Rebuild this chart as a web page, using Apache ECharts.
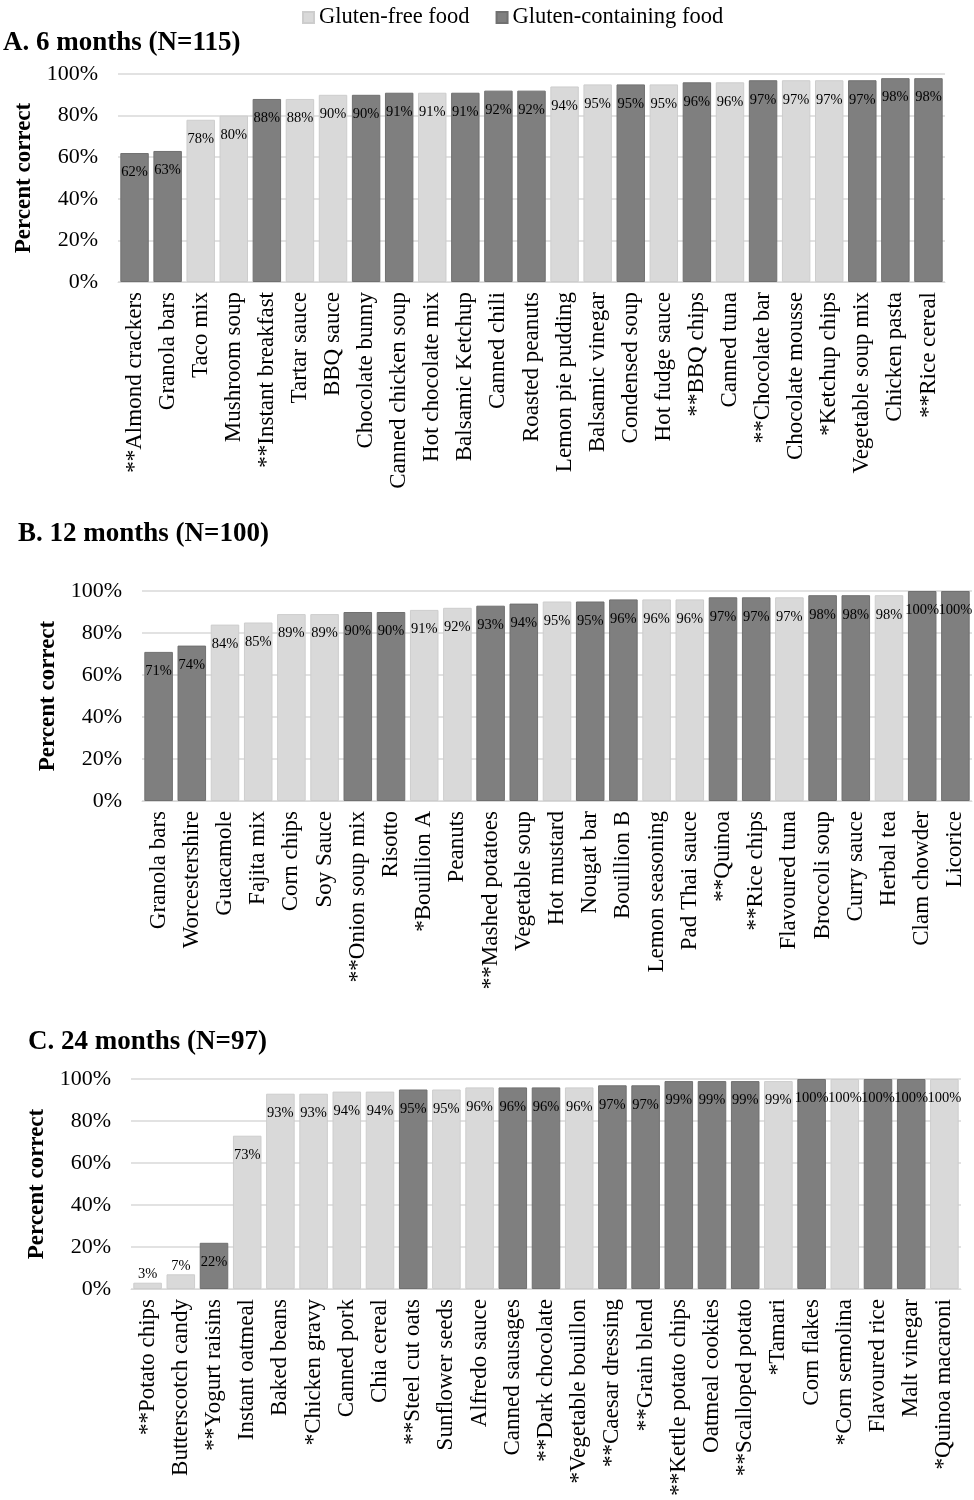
<!DOCTYPE html>
<html>
<head>
<meta charset="utf-8">
<script src="https://cdn.jsdelivr.net/npm/echarts@6/dist/echarts.min.js"></script>
<style>
  html, body { margin: 0; padding: 0; background: #fff; }
  #chart { width: 974px; height: 1500px; }
</style>
</head>
<body>
<div id="chart"></div>
<script>
// F = gluten-free food, G = gluten-containing food
const categoriesA = ['**Almond crackers', 'Granola bars', 'Taco mix', 'Mushroom soup', '**Instant breakfast',
  'Tartar sauce', 'BBQ sauce', 'Chocolate bunny', 'Canned chicken soup', 'Hot chocolate mix',
  'Balsamic Ketchup', 'Canned chili', 'Roasted peanuts', 'Lemon pie pudding', 'Balsamic vinegar',
  'Condensed soup', 'Hot fudge sauce', '**BBQ chips', 'Canned tuna', '**Chocolate bar',
  'Chocolate mousse', '*Ketchup chips', 'Vegetable soup mix', 'Chicken pasta', '**Rice cereal'];
const valuesA = [62, 63, 78, 80, 88, 88, 90, 90, 91, 91, 91, 92, 92, 94, 95, 95, 95, 96, 96, 97, 97, 97, 97, 98, 98];
const typesA = ['G', 'G', 'F', 'F', 'G', 'F', 'F', 'G', 'G', 'F', 'G', 'G', 'G', 'F', 'F', 'G', 'F', 'G', 'F', 'G', 'F', 'F', 'G', 'G', 'G'];

const categoriesB = ['Granola bars', 'Worcestershire', 'Guacamole', 'Fajita mix', 'Corn chips',
  'Soy Sauce', '**Onion soup mix', 'Risotto', '*Bouillion A', 'Peanuts',
  '**Mashed potatoes', 'Vegetable soup', 'Hot mustard', 'Nougat bar', 'Bouillion B',
  'Lemon seasoning', 'Pad Thai sauce', '**Quinoa', '**Rice chips', 'Flavoured tuna',
  'Broccoli soup', 'Curry sauce', 'Herbal tea', 'Clam chowder', 'Licorice'];
const valuesB = [71, 74, 84, 85, 89, 89, 90, 90, 91, 92, 93, 94, 95, 95, 96, 96, 96, 97, 97, 97, 98, 98, 98, 100, 100];
const typesB = ['G', 'G', 'F', 'F', 'F', 'F', 'G', 'G', 'F', 'F', 'G', 'G', 'F', 'G', 'G', 'F', 'F', 'G', 'G', 'F', 'G', 'G', 'F', 'G', 'G'];

const categoriesC = ['**Potato chips', 'Butterscotch candy', '**Yogurt raisins', 'Instant oatmeal', 'Baked beans',
  '*Chicken gravy', 'Canned pork', 'Chia cereal', '**Steel cut oats', 'Sunflower seeds',
  'Alfredo sauce', 'Canned sausages', '**Dark chocolate', '*Vegetable bouillon', '**Caesar dressing',
  '**Grain blend', '**Kettle potato chips', 'Oatmeal cookies', '**Scalloped potato', '*Tamari',
  'Corn flakes', '*Corn semolina', 'Flavoured rice', 'Malt vinegar', '*Quinoa macaroni'];
const valuesC = [3, 7, 22, 73, 93, 93, 94, 94, 95, 95, 96, 96, 96, 96, 97, 97, 99, 99, 99, 99, 100, 100, 100, 100, 100];
const typesC = ['F', 'F', 'G', 'F', 'F', 'F', 'F', 'F', 'G', 'F', 'F', 'G', 'G', 'F', 'G', 'G', 'G', 'G', 'G', 'F', 'G', 'F', 'G', 'G', 'F'];

const panelTitles = ['A. 6 months (N=115)', 'B. 12 months (N=100)', 'C. 24 months (N=97)'];
const seriesNames = { F: 'Gluten-free food', G: 'Gluten-containing food' };

const FONT = "'Liberation Serif', 'Times New Roman', serif";
const colors = { F: '#d9d9d9', G: '#7f7f7f' };
const borders = { F: '#cdcdcd', G: '#707070' };

const panels = [
  { cats: categoriesA, vals: valuesA, types: typesA, grid: { left: 118, right: 29, top: 74, height: 208 }, titleLeft: 3, titleTop: 30 },
  { cats: categoriesB, vals: valuesB, types: typesB, grid: { left: 142, right: 2, top: 591, height: 210 }, titleLeft: 18, titleTop: 521 },
  { cats: categoriesC, vals: valuesC, types: typesC, grid: { left: 131, right: 13, top: 1079, height: 210 }, titleLeft: 28, titleTop: 1029 }
];

const barData = (vals, types, kind) => vals.map((v, i) => {
  if (types[i] !== kind) return '-';
  const small = v < 10;
  return {
    value: v,
    label: { position: small ? 'top' : 'insideTop', distance: small ? 1 : 12 }
  };
});

const grid = [], xAxis = [], yAxis = [], series = [], title = [];
panels.forEach((p, idx) => {
  grid.push(p.grid);
  title.push({
    text: panelTitles[idx],
    left: p.titleLeft,
    top: p.titleTop,
    padding: 0,
    textStyle: { fontFamily: FONT, fontSize: 27, fontWeight: 'bold', color: '#000' }
  });
  xAxis.push({
    type: 'category',
    gridIndex: idx,
    data: p.cats,
    axisTick: { show: false },
    axisLine: { lineStyle: { color: '#d9d9d9', width: 1 } },
    axisLabel: { rotate: 90, interval: 0, margin: 10, fontFamily: FONT, fontSize: 23, color: '#000' }
  });
  yAxis.push({
    type: 'value',
    gridIndex: idx,
    min: 0,
    max: 100,
    interval: 20,
    name: 'Percent correct',
    nameLocation: 'middle',
    nameGap: 80,
    nameTextStyle: { fontFamily: FONT, fontSize: 23, fontWeight: 'bold', color: '#000' },
    axisLine: { show: false },
    axisTick: { show: false },
    splitLine: { lineStyle: { color: '#d9d9d9', width: 1.5 } },
    axisLabel: { formatter: '{value}%', margin: 20, fontFamily: FONT, fontSize: 22, color: '#000' }
  });
  ['F', 'G'].forEach(kind => {
    series.push({
      name: seriesNames[kind],
      type: 'bar',
      xAxisIndex: idx,
      yAxisIndex: idx,
      stack: 'panel' + idx,
      barCategoryGap: '14%',
      data: barData(p.vals, p.types, kind),
      itemStyle: { color: colors[kind], borderColor: borders[kind], borderWidth: 1 },
      label: {
        show: true,
        formatter: '{c}%',
        fontFamily: FONT,
        fontSize: 14.5,
        color: '#000'
      },
      animation: false
    });
  });
});

const legendText = { fontFamily: FONT, fontSize: 22.5, color: '#000' };

const myChart = echarts.init(document.getElementById('chart'));
myChart.setOption({
  backgroundColor: '#fff',
  animation: false,
  textStyle: { fontFamily: FONT },
  title,
  legend: {
    data: [
      { name: seriesNames.F, textStyle: legendText },
      { name: seriesNames.G, textStyle: legendText }
    ],
    top: 1,
    left: 297,
    icon: 'rect',
    itemWidth: 11,
    itemHeight: 11,
    itemGap: 26,
    formatter: name => '{t|' + name + '}',
    textStyle: {
      fontFamily: FONT,
      fontSize: 22.5,
      color: '#000',
      rich: { t: { fontFamily: FONT, fontSize: 22.5, color: '#000' } }
    }
  },
  grid,
  xAxis,
  yAxis,
  series
});
</script>
</body>
</html>
